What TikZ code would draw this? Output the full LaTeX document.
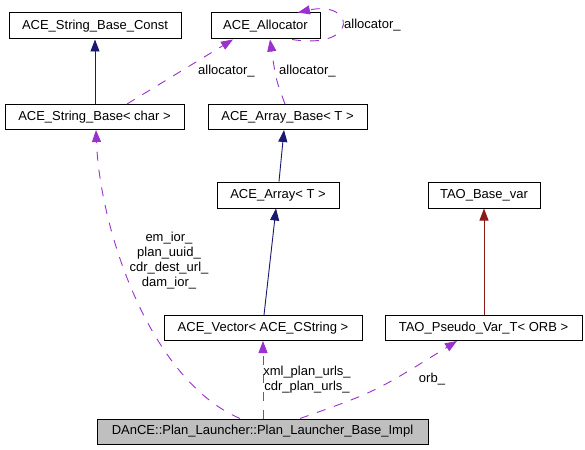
\documentclass[tikz,border=0pt]{standalone}
\usepackage{fontspec}
\setmainfont{Liberation Sans}
\usetikzlibrary{arrows.meta}
\definecolor{navyc}{HTML}{191970}
\definecolor{purplec}{HTML}{9A32CD}
\definecolor{redc}{HTML}{8B1A1A}
\definecolor{grayc}{HTML}{BFBFBF}
\begin{document}
\begin{tikzpicture}[x=1pt,y=-1pt,
  every node/.style={font=\fontsize{13}{15}\selectfont},
  cls/.style={draw=black,line width=1pt,inner sep=0pt,fill=white},
  inh/.style={draw=navyc,line width=0.9pt,-{Triangle[length=12pt,width=9pt,fill=navyc]}},
  inhred/.style={draw=redc,line width=0.9pt,-{Triangle[length=12pt,width=9pt,fill=redc]}},
  use/.style={draw=purplec,line width=0.9pt,dash pattern=on 9pt off 9pt,-{Triangle[length=12pt,width=9pt,fill=purplec]}},
  lbl/.style={inner sep=0pt,align=center}]
\useasboundingbox (0,0) rectangle (585,449);
\fill[white] (0,0) rectangle (585,449);
% classes
\node[cls,minimum width=172pt,minimum height=26pt] (SBC) at (95,26) {ACE\_String\_Base\_Const};
\node[cls,minimum width=109pt,minimum height=26pt] (AL) at (265.5,26) {ACE\_Allocator};
\node[cls,minimum width=179pt,minimum height=25pt] (SB) at (94.5,117) {ACE\_String\_Base< char >};
\node[cls,minimum width=159pt,minimum height=25pt] (AB) at (287.5,117) {ACE\_Array\_Base< T >};
\node[cls,minimum width=122pt,minimum height=26pt] (AR) at (278,195) {ACE\_Array< T >};
\node[cls,minimum width=112pt,minimum height=26pt] (TB) at (484,195) {TAO\_Base\_var};
\node[cls,minimum width=198pt,minimum height=25pt] (VEC) at (263,328) {ACE\_Vector< ACE\_CString >};
\node[cls,minimum width=197pt,minimum height=25pt] (PV) at (483.5,328) {TAO\_Pseudo\_Var\_T< ORB >};
\node[cls,fill=grayc,minimum width=331pt,minimum height=25pt] (DANCE) at (262.5,431.5) {DAnCE::Plan\_Launcher::Plan\_Launcher\_Base\_Impl};
% inheritance
\draw[inh] (SB.north -| 95,0) -- (SBC.south -| 95,0);
\draw[inh] (AR.north -| 279,0) -- (AB.south -| 284,0);
\draw[inh] (VEC.north -| 264,0) -- (AR.south -| 276,0);
\draw[inhred] (PV.north -| 484,0) -- (TB.south -| 484,0);
% usage
\draw[use] (SB.north -| 127,0) -- (AL.south -| 233,0);
\node[lbl,anchor=west] (l1) at (198,71) {allocator\_};
\draw[use] (AB.north -| 285,0) .. controls (276,80) .. (AL.south -| 270,0);
\node[lbl,anchor=west] (l2) at (279,71) {allocator\_};
\draw[use] (AL.south -| 292,0) .. controls (360,50) and (355,0) .. (AL.north -| 298,0);
\node[lbl,anchor=west] (l3) at (344,25) {allocator\_};
\draw[use] (DANCE.north -| 240,0) .. controls (150,380) and (100,230) .. (SB.south -| 96,0);
\node[lbl] (l4) at (169,260.5) {em\_ior\_\\plan\_uuid\_\\cdr\_dest\_url\_\\dam\_ior\_};
\draw[use] (DANCE.north -| 263,0) -- (VEC.south -| 263,0);
\node[lbl] (l5) at (307,379.5) {xml\_plan\_urls\_\\cdr\_plan\_urls\_};
\draw[use] (DANCE.north -| 300,0) .. controls (375,392) .. (PV.south -| 457,0);
\node[lbl] (l6) at (432,379) {orb\_};
\end{tikzpicture}
\end{document}
